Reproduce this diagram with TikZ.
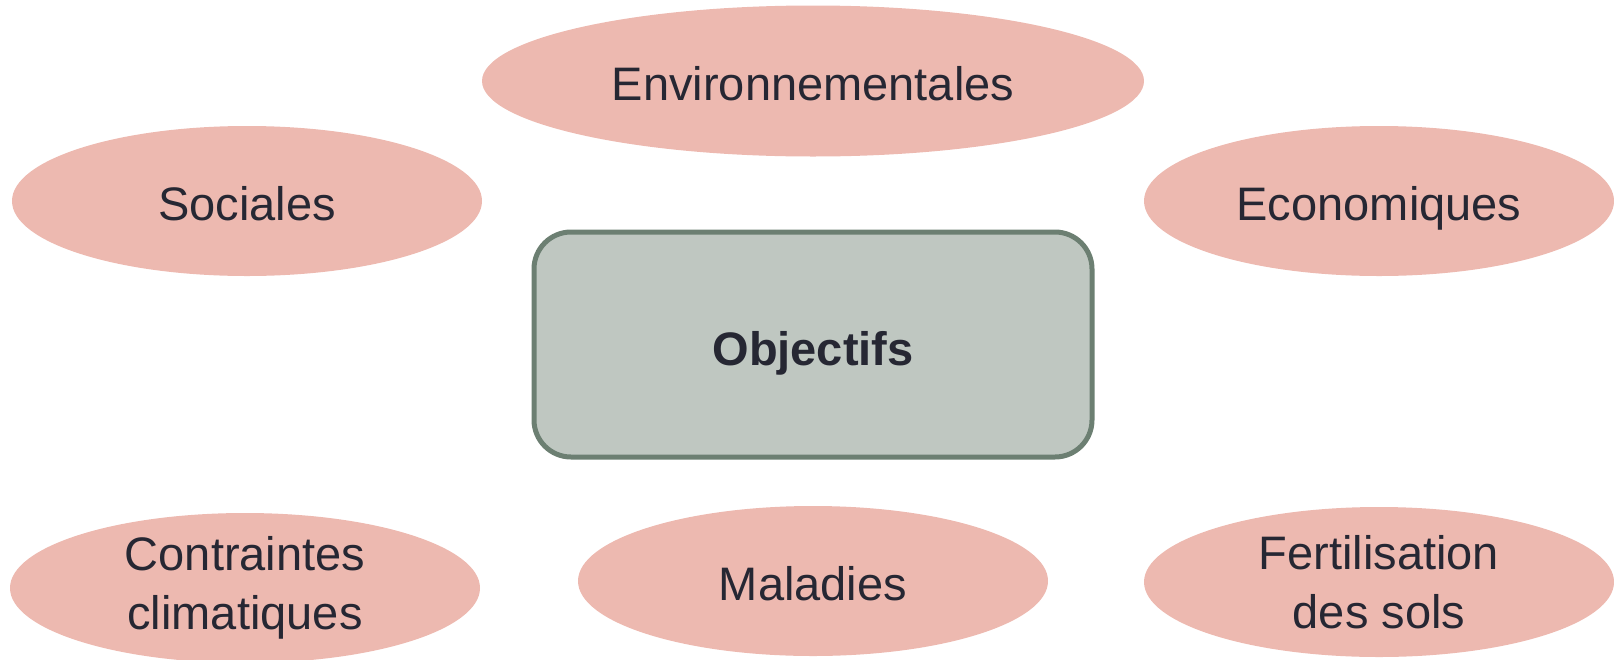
\documentclass[tikz,border=0pt]{standalone}
\usepackage{fontspec}
\setmainfont{Liberation Sans}
\usetikzlibrary{shapes.geometric}
\definecolor{saumon}{HTML}{EDB9B0}
\definecolor{gris}{HTML}{BFC7C1}
\definecolor{grisfonce}{HTML}{6C7F72}
\definecolor{encre}{HTML}{262733}

\begin{document}
\begin{tikzpicture}[x=1pt,y=-1pt,
    bulle/.style={ellipse, fill=saumon, inner sep=0pt, minimum width=470pt,
        minimum height=150pt, text=encre, align=center,
        font=\fontsize{47}{59}\selectfont},
    ligne/.style={text height=44pt, text depth=6pt},
    cadre/.style={rectangle, rounded corners=37pt, draw=grisfonce, line width=5pt,
        fill=gris, minimum width=558pt, minimum height=225pt, text=encre,
        text height=45pt, text depth=4pt,
        font=\fontsize{47}{54}\selectfont\bfseries}]

\useasboundingbox (0,0) rectangle (1614,659);

% bloc central
\node[cadre] (obj) at (813,344.5) {Objectifs};

% bulles du haut
\node[bulle, ligne, minimum width=662pt, minimum height=151pt] (env) at (813,81) {Environnementales};
\node[bulle, ligne] (soc) at (247,201) {Sociales};
\node[bulle, ligne] (eco) at (1379,201) {Economiques};

% bulles du bas
\node[bulle] (clim) at (245,588) {Contraintes\\climatiques};
\node[bulle, ligne] (mal) at (813,581) {Maladies};
\node[bulle] (fert) at (1379,582) {Fertilisation\\des sols};

\end{tikzpicture}
\end{document}
